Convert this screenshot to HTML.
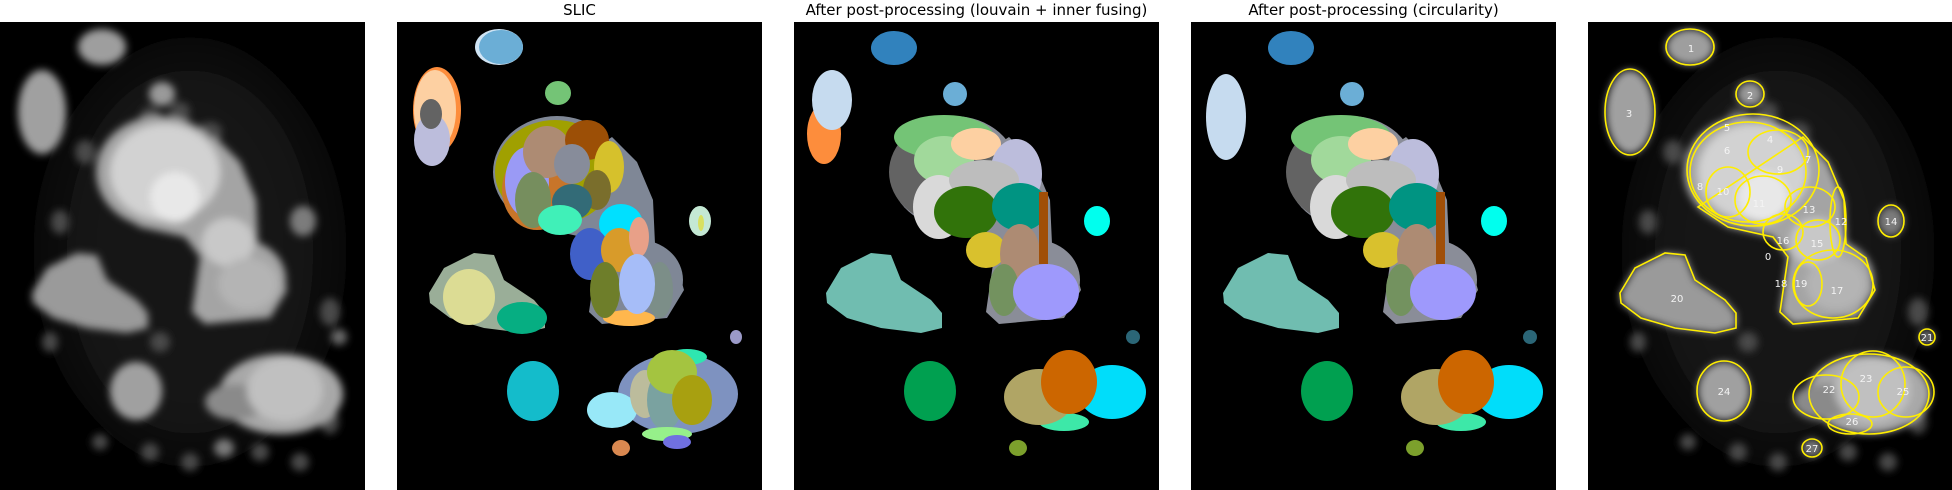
<!DOCTYPE html>
<html><head><meta charset="utf-8"><style>
html,body{margin:0;padding:0;background:#fff;width:1952px;height:490px;overflow:hidden;font-family:"DejaVu Sans","Liberation Sans",sans-serif}
.t{position:absolute;top:0;font-size:15px;color:#000;text-align:center;width:365px;line-height:20px}
svg{position:absolute;top:22px}
</style></head><body>
<div class="t" style="left:397px">SLIC</div>
<div class="t" style="left:794px;width:365px;white-space:nowrap">After post-processing (louvain + inner fusing)</div>
<div class="t" style="left:1191px;white-space:nowrap">After post-processing (circularity)</div>
<svg id="p1" style="left:0" width="365" height="468" viewBox="0 0 365 468"></svg>
<svg id="p2" style="left:397px" width="365" height="468" viewBox="0 0 365 468"></svg>
<svg id="p3" style="left:794px" width="365" height="468" viewBox="0 0 365 468"></svg>
<svg id="p4" style="left:1191px" width="365" height="468" viewBox="0 0 365 468"></svg>
<svg id="p5" style="left:1588px" width="365" height="468" viewBox="0 0 365 468"></svg>
<script>
const NS="http://www.w3.org/2000/svg";
const poly20="32,271 47,246 77,231 97,233 107,258 137,278 148,291 148,306 127,311 87,306 53,296 33,281";
const peanutPoly="110,185 140,205 185,215 200,235 192,290 205,302 270,296 287,268 278,236 258,222 256,178 240,140 215,115";
function el(svg,tag,attrs){const e=document.createElementNS(NS,tag);for(const k in attrs)e.setAttribute(k,attrs[k]);svg.appendChild(e);return e;}
function E(svg,cx,cy,rx,ry,fill,name){const e=el(svg,'ellipse',{cx,cy,rx,ry,fill});


return e;}
function P(svg,pts,fill,name){const e=el(svg,'polygon',{points:pts,fill});


return e;}
function bg(svg){const r=el(svg,'rect',{x:0,y:0,width:365,height:468,fill:'#000'});

}
function peanut(svg,fill){E(svg,160,150,64,56,fill,'cell-body');E(svg,242,258,44,40,fill,'cell-body');P(svg,peanutPoly,fill,'cell-body');}
function gray(svg){
 bg(svg);
 const d=el(svg,'defs',{});const f=el(d,'filter',{id:svg.id+'b',x:'-20%',y:'-20%',width:'140%',height:'140%'});el(f,'feGaussianBlur',{stdDeviation:'4'});
 const f2=el(d,'filter',{id:svg.id+'h',x:'-30%',y:'-30%',width:'160%',height:'160%'});el(f2,'feGaussianBlur',{stdDeviation:'25'});
 const g0=el(svg,'g',{filter:'url(#'+svg.id+'h)'});
 E(g0,190,230,140,200,'#161616','haze');
 const g=el(svg,'g',{filter:'url(#'+svg.id+'b)'});
 [[150,95,10,10],[180,90,10,10],[210,110,12,10],[85,130,10,12],[60,200,9,12],[50,320,8,10],[160,320,10,10],[100,420,8,8],[150,430,9,9],[190,440,9,9],[260,430,9,9],[300,440,9,9],[330,400,9,12],[330,290,10,14],[230,150,10,12]].forEach(a=>E(g,a[0],a[1],a[2],a[3],'#4a4a4a','small-cell'));
 E(g,102,25,24,18,'#9e9e9e','cell-1');
 E(g,162,72,13,12,'#9a9a9a','cell-2');
 E(g,42,90,24,42,'#a0a0a0','cell-3');
 E(g,303,199,13,15,'#7c7c7c','cell-14');
 P(g,poly20,'#9a9a9a','cell-20');
 E(g,136,369,26,29,'#a0a0a0','cell-24');
 E(g,339,315,8,8,'#6a6a6a','cell-21');
 E(g,224,426,10,9,'#7a7a7a','cell-27');
 E(g,281,372,62,40,'#a8a8a8','cell-group');E(g,235,380,30,18,'#8a8a8a','cell-22');E(g,285,368,38,32,'#c0c0c0','cell-23');
 peanut(g,'#a4a4a4');
 E(g,165,150,55,48,'#d2d2d2','big-cell-core');E(g,175,175,25,25,'#e8e8e8','big-cell-bright');E(g,228,220,26,24,'#c8c8c8','big-cell-lower');E(g,248,262,30,26,'#b4b4b4','cell-17');
}
gray(document.getElementById('p1'));
const p5=document.getElementById('p5');gray(p5);
function O(cx,cy,rx,ry,name){const e=el(p5,'ellipse',{cx,cy,rx,ry,fill:'none',stroke:'#ffee00','stroke-width':1.6});

}
O(102,25,24,18,'outline-1');O(162,72,14,13,'outline-2');O(42,90,25,43,'outline-3');O(303,199,13,16,'outline-14');O(339,315,8,8,'outline-21');O(224,426,10,9,'outline-27');O(136,369,27,30,'outline-24');
const o20=el(p5,'polygon',{points:poly20,fill:'none',stroke:'#ffee00','stroke-width':1.6});


const op=el(p5,'polygon',{points:peanutPoly,fill:'none',stroke:'#ffee00','stroke-width':1.6});


O(165,148,66,56,'outline-big-top');O(160,150,58,50,'outline-5');O(245,262,40,34,'outline-17');O(220,262,14,22,'outline-19');O(230,218,22,20,'outline-15');O(195,210,20,18,'outline-16');O(222,185,25,20,'outline-13');O(140,170,22,25,'outline-10');O(175,178,28,24,'outline-11');O(190,130,30,22,'outline-9');O(250,200,8,35,'outline-12');
O(281,372,60,40,'outline-group');O(238,375,33,22,'outline-22');O(285,362,32,33,'outline-23');O(318,370,28,25,'outline-25');O(262,402,22,10,'outline-26');
const labs=[["1",103,26],["2",162,73],["3",41,91],["5",139,105],["4",182,117],["6",139,128],["7",220,137],["9",192,147],["8",112,164],["10",135,169],["11",171,181],["13",221,187],["12",253,199],["14",303,199],["16",195,218],["15",229,221],["0",180,234],["18",193,261],["19",213,261],["17",249,268],["20",89,276],["21",339,315],["23",278,356],["22",241,367],["25",315,369],["24",136,369],["26",264,399],["27",224,426]];
labs.forEach(l=>{const t=el(p5,'text',{x:l[1],y:l[2]+4,fill:'#f4f4f4','font-size':10,'text-anchor':'middle','font-family':'DejaVu Sans, sans-serif'});t.textContent=l[0];

});
const p2=document.getElementById('p2');bg(p2);
E(p2,102,25,24,18,'#d0e4f4','cell-1-edge');E(p2,104,25,22,17,'#6baed6','cell-1');
E(p2,40,88,24,43,'#fd8d3c','cell-3-edge');E(p2,38,88,21,40,'#fdd0a2','cell-3-top');E(p2,35,118,18,26,'#bcbddc','cell-3-bottom');E(p2,34,92,11,15,'#636363','cell-3-core');
E(p2,161,71,13,12,'#74c476','cell-2');
E(p2,303,199,11,15,'#c4e8d4','cell-14');E(p2,304,201,3,8,'#d8e060','cell-14-core');
P(p2,poly20,'#9aae98','cell-20');E(p2,72,275,26,28,'#dcdc94','cell-20-yellow');E(p2,125,296,25,16,'#06ae82','cell-20-green');
E(p2,136,369,26,30,'#14bccb','cell-24');
E(p2,339,315,6,7,'#9b9ac8','cell-21');E(p2,224,426,9,8,'#d98850','cell-27');
E(p2,281,372,60,40,'#7e92c0','group-base');E(p2,290,335,20,8,'#2ee6b0','group-mint');E(p2,215,388,25,18,'#98e8f8','group-cyan');E(p2,248,372,15,24,'#bcbc9c','group-beige');E(p2,268,378,18,30,'#7aa2a0','group-teal');E(p2,275,350,25,22,'#a4c440','group-lime');E(p2,295,378,20,25,'#a8a010','group-olive');E(p2,270,412,25,7,'#96f08a','group-green');E(p2,280,420,14,7,'#7070e0','group-blue');
peanut(p2,'#7f8796');
[[158,150,60,52,'#a0a000'],[140,168,35,40,'#c8752a'],[130,160,22,35,'#9a9af5'],[150,130,24,26,'#ad8b73'],[190,118,22,20,'#9c4f06'],[175,142,18,20,'#878c9a'],[212,145,15,26,'#d6c12c'],[136,178,18,28,'#768e5e'],[200,168,14,20,'#7a6e2c'],[175,180,20,18,'#336b77'],[224,202,22,20,'#00e0ff'],[163,198,22,15,'#40f0b8'],[193,232,20,26,'#4060c8'],[222,228,18,22,'#d89b2a'],[242,215,10,20,'#e8a088'],[263,268,13,28,'#7c8e88'],[232,296,26,8,'#ffb74d'],[208,268,15,28,'#6e7e2a'],[240,262,18,30,'#a6bdf8']].forEach((a,i)=>E(p2,a[0],a[1],a[2],a[3],a[4],'slic-segment-'+i));
function post(id,circ){const s=document.getElementById(id);bg(s);
 E(s,100,26,23,17,'#3182bd','cell-1');
 if(circ){E(s,35,95,20,43,'#c6dbef','cell-3');}else{E(s,30,112,17,30,'#fd8d3c','cell-3-bottom');E(s,38,78,20,30,'#c6dbef','cell-3-top');}
 E(s,161,72,12,12,'#6baed6','cell-2');
 E(s,303,199,13,15,'#00ffee','cell-14');
 P(s,poly20,'#70bdb0','cell-20');
 E(s,136,369,26,30,'#00a050','cell-24');
 E(s,339,315,7,7,'#2b6677','cell-21');E(s,224,426,9,8,'#7ca02c','cell-27');
 E(s,270,400,25,9,'#3de8a8','group-mint');E(s,245,375,35,28,'#b0a565','group-khaki');E(s,318,370,34,27,'#00ddfa','group-cyan');E(s,275,360,28,32,'#cc6600','group-orange');
 peanut(s,'#8a8d98');
 [[155,150,60,52,'#636363'],[150,115,50,22,'#74c476'],[150,138,30,24,'#a1d99b'],[182,122,25,16,'#fdd0a2'],[222,152,26,35,'#bcbddc'],[145,185,26,32,'#d9d9d9'],[190,158,35,20,'#bdbdbd'],[172,190,32,26,'#31730a'],[226,185,28,24,'#009482'],[192,228,20,18,'#d9c12d'],[226,232,20,30,'#ad8b73'],[210,268,15,26,'#73925f'],[252,270,33,28,'#9e99fc']].forEach((a,i)=>E(s,a[0],a[1],a[2],a[3],a[4],'segment-'+i));
 const r=el(s,'rect',{x:245,y:170,width:9,height:72,fill:'#a04f08'});
 
 
}
post('p3',false);post('p4',true);
</script>
</body></html>
